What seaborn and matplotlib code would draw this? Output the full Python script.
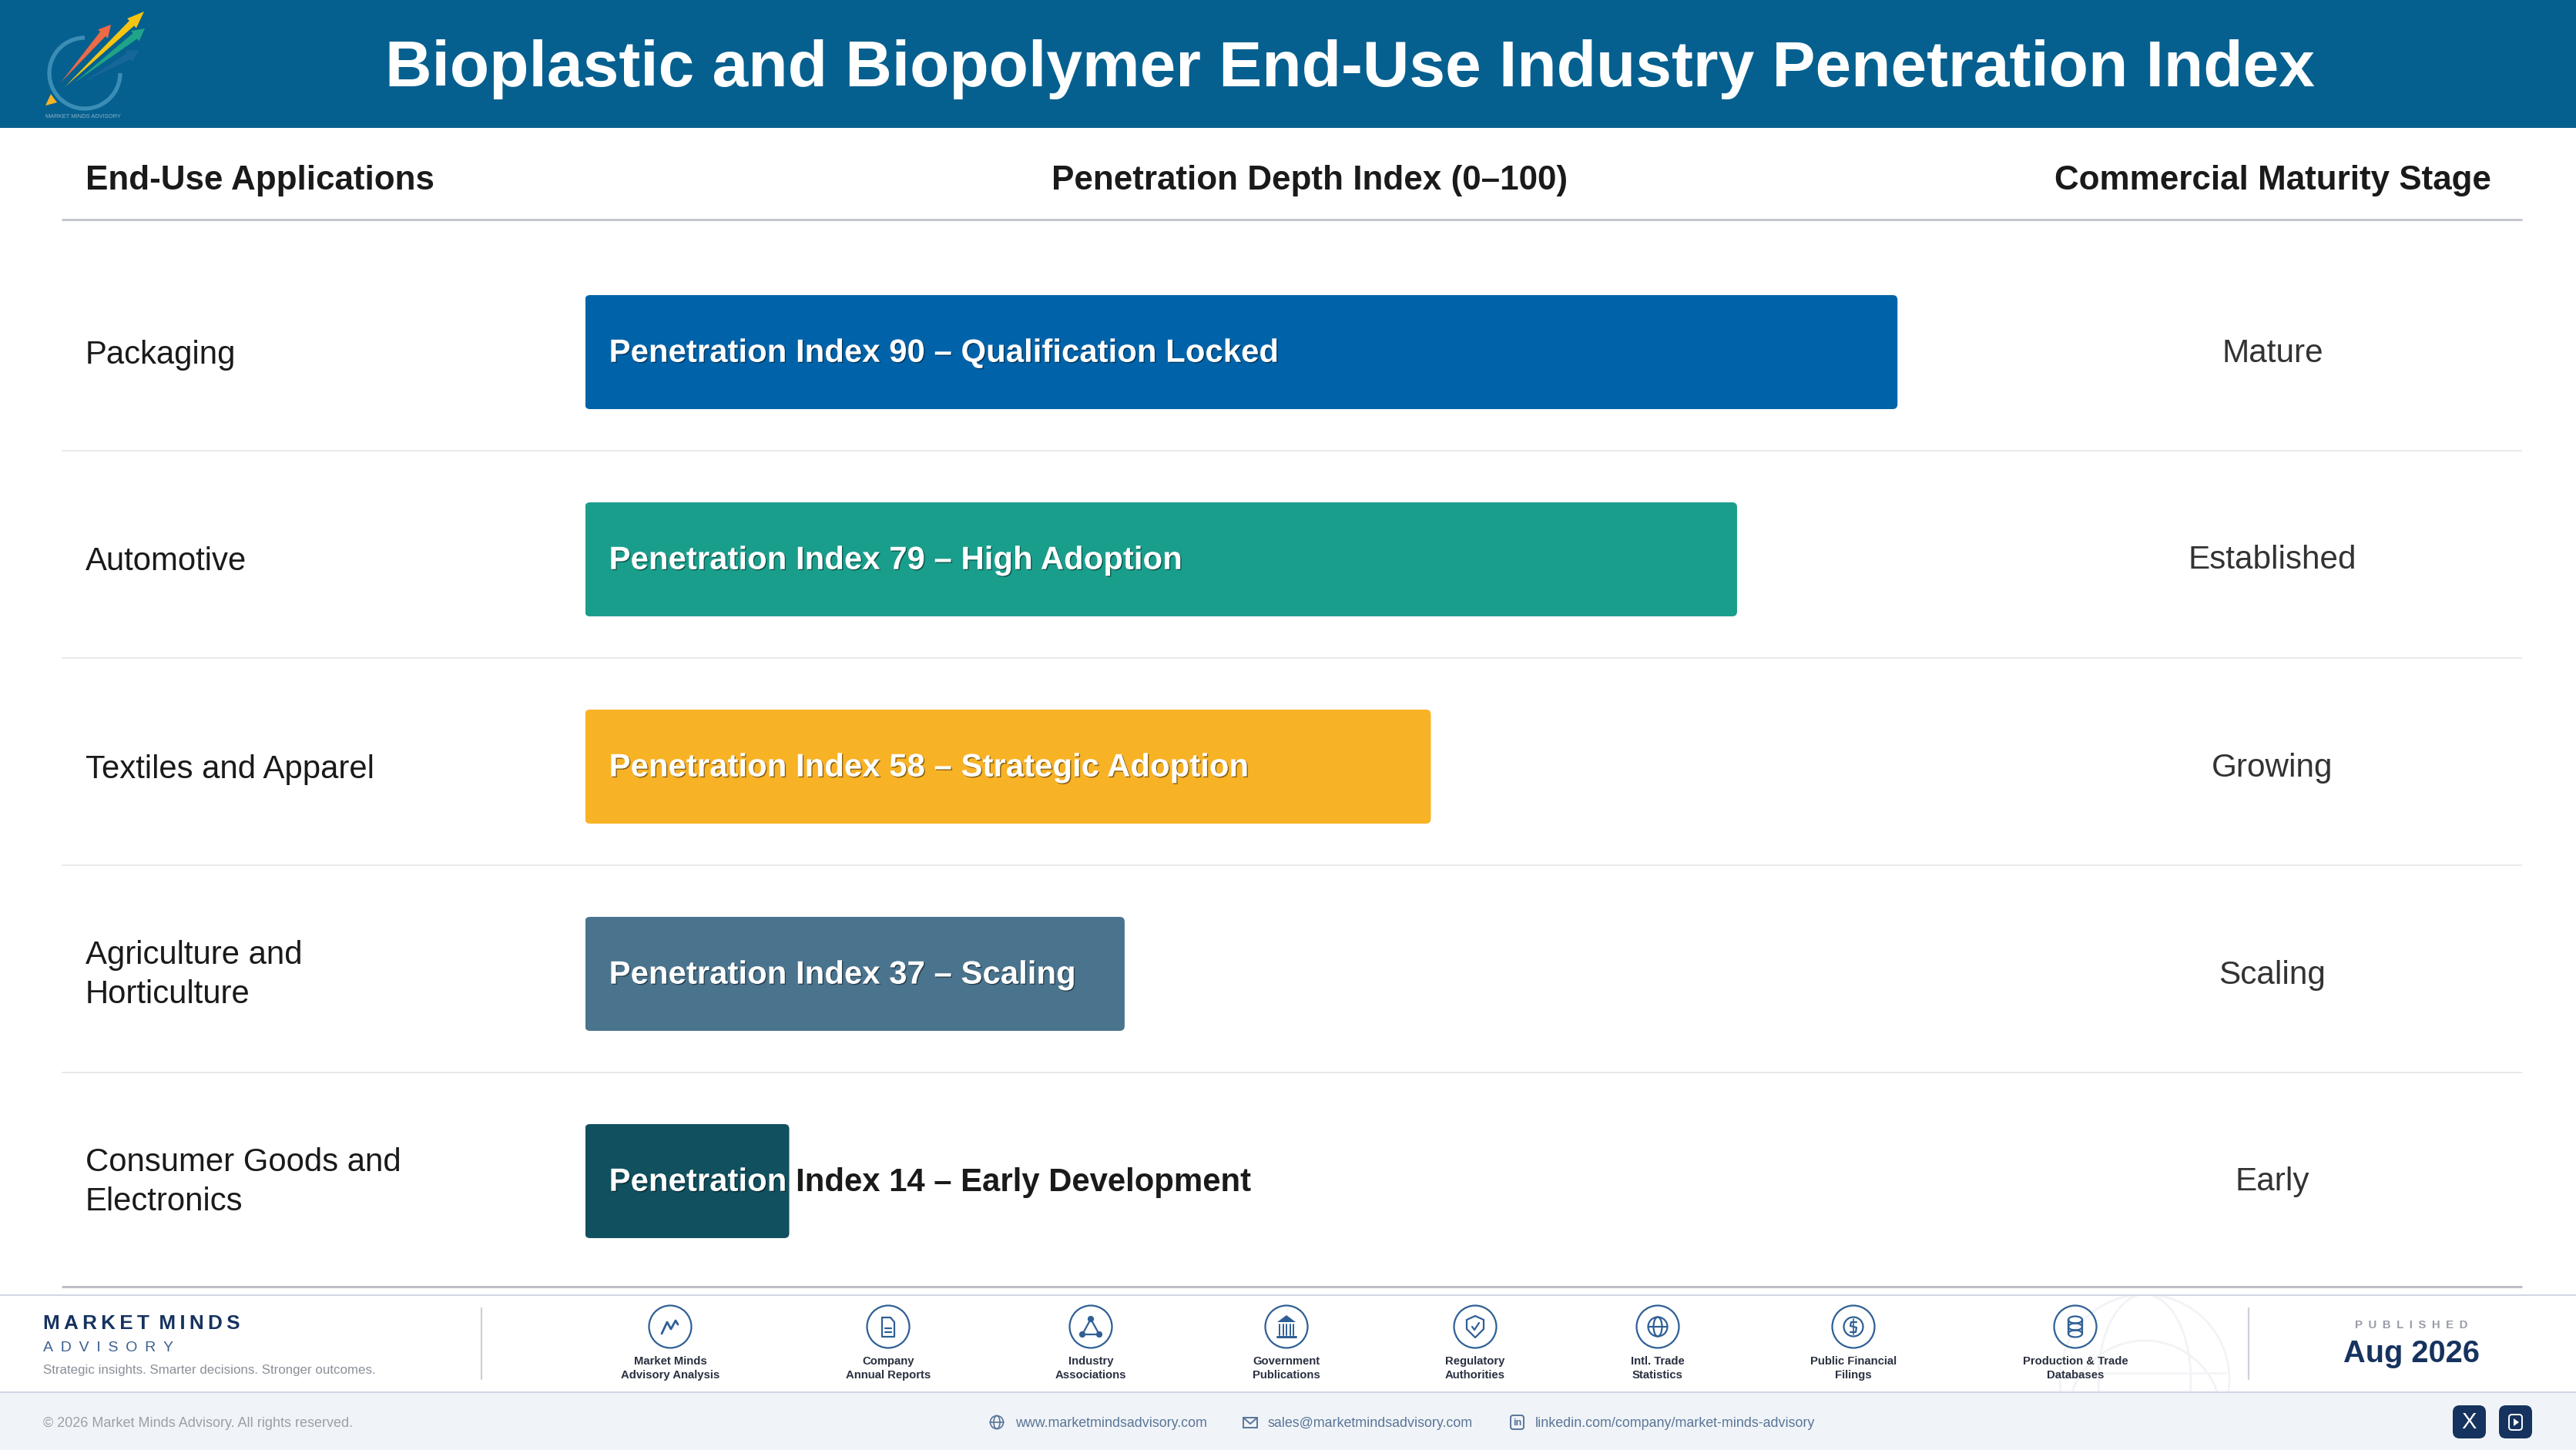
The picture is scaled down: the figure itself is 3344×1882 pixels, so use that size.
import numpy as np
import pandas as pd
import seaborn as sns
import matplotlib.pyplot as plt
import matplotlib.patheffects as pe
from matplotlib.patches import Rectangle, FancyBboxPatch, Circle, Ellipse, Arc, Polygon

OUTFILE = "out.png"

title = "Bioplastic and Biopolymer End-Use Industry Penetration Index"
headers = ["End-Use Applications", "Penetration Depth Index (0–100)", "Commercial Maturity Stage"]

applications = ["Packaging", "Automotive", "Textiles and Apparel", "Agriculture and\nHorticulture", "Consumer Goods and\nElectronics"]
index_values = [90, 79, 58, 37, 14]
adoption_labels = ["Qualification Locked", "High Adoption", "Strategic Adoption", "Scaling", "Early Development"]
maturity_stages = ["Mature", "Established", "Growing", "Scaling", "Early"]
bar_colors = ["#0063AA", "#1A9E8C", "#F8B225", "#4A748E", "#10505F"]

source_labels = ["Market Minds\nAdvisory Analysis", "Company\nAnnual Reports", "Industry\nAssociations", "Government\nPublications",
                 "Regulatory\nAuthorities", "Intl. Trade\nStatistics", "Public Financial\nFilings", "Production & Trade\nDatabases"]
source_x = [870, 1153, 1416, 1670, 1915, 2152, 2406, 2694]

W, H = 3344, 1882
DPI = 200
NAVY = "#16335F"
ICON = "#2F5F95"
FONT = ["Liberation Sans", "DejaVu Sans"]

sns.set_theme(style="white")
plt.rcParams["font.family"] = FONT

fig = plt.figure(figsize=(W / DPI, H / DPI), dpi=DPI, facecolor="white")

# page layer in pixel coordinates
bg = fig.add_axes([0, 0, 1, 1], zorder=0)
bg.set_xlim(0, W)
bg.set_ylim(H, 0)
bg.set_axis_off()


def rule(x0, x1, y, color, px):
    bg.plot([x0, x1], [y, y], color=color, lw=px * 0.36, solid_capstyle="butt")


def put(x, y, s, size, color="#1A1A1A", weight="normal", ha="left", **kw):
    return bg.text(x, y, s, fontsize=size, color=color, fontweight=weight, ha=ha, va="center", **kw)


# header band + logo
bg.add_patch(Rectangle((0, 0), W, 166, color="#05608F", lw=0))
put(1752, 90, title, 30.2, "white", "bold", ha="center")


def arrow(tail, tip, color, head=16, alpha=1.0):
    tail, tip = np.array(tail, float), np.array(tip, float)
    d = (tip - tail) / np.linalg.norm(tip - tail)
    n = np.array([-d[1], d[0]])
    neck = tip - d * head
    pts = [tail, neck + n * 4.5, neck + n * 8.5, tip, neck - n * 8.5, neck - n * 4.5]
    bg.add_patch(Polygon(pts, closed=True, color=color, lw=0, alpha=alpha))


bg.add_patch(Arc((110, 95), 92, 92, theta1=0, theta2=270, color="#3A8DB5", lw=1.9))
arrow((107, 107), (181, 65), "#1E6A9E", alpha=0.7)
arrow((97, 107), (188, 37), "#1FA487")
arrow((79, 107), (144, 32), "#EE6A45")
arrow((84, 113), (187, 15), "#F7C511", head=22)
bg.add_patch(Polygon([(59, 137), (66, 122), (74, 133)], closed=True, color="#F8B225", lw=0))
put(59, 151, "MARKET MINDS ADVISORY", 2.7, "#8FB2C6")

# table headers
put(111, 234, headers[0], 15.85, weight="bold")
put(1700, 234, headers[1], 15.85, weight="bold", ha="center")
put(2950, 234, headers[2], 15.85, weight="bold", ha="center")
rule(80, 3274, 285, "#C4C6CF", 3)

for y in [585, 854, 1123, 1392]:
    rule(80, 3274, y, "#E8E9EC", 2)
rule(80, 3274, 1670, "#BDBDC8", 3)

# bars, 0-100 scale mapped onto 759.5..2652.5 px
df = pd.DataFrame({"application": applications, "index": index_values})
ax = fig.add_axes([759.5 / W, 1 - 1667.5 / H, 1893 / W, 1345 / H], zorder=1)
ax.patch.set_alpha(0)
sns.barplot(data=df, x="index", y="application", hue="application", palette=bar_colors,
            width=0.55, dodge=False, legend=False, saturation=1, orient="h", ax=ax)
ax.set_xlim(0, 100)
ax.set_ylim(4.5, -0.5)
ax.set_axis_off()

aspect = (1893 / 100) / (1345 / 5)
for bar in list(ax.patches):
    ax.add_patch(FancyBboxPatch((bar.get_x(), bar.get_y()), bar.get_width(), bar.get_height(),
                                boxstyle="round,pad=0,rounding_size=0.33", mutation_aspect=aspect,
                                facecolor=bar.get_facecolor(), edgecolor="none", lw=0))
    bar.set_visible(False)

for i, (value, label) in enumerate(zip(index_values, adoption_labels)):
    s = f"Penetration Index {value} – {label}"
    white = ax.annotate(s, xy=(0, i), xytext=(11.2, -0.6), textcoords="offset points", fontsize=15.1,
                        fontweight="bold", color="white", va="center", ha="left")
    white.set_path_effects([pe.withSimplePatchShadow(offset=(0.5, -0.5), shadow_rgbFace="black", alpha=0.45)])
    white.set_clip_path(Rectangle((0, i - 0.5), value, 1, transform=ax.transData))
    white.set_clip_on(True)
    dark = ax.annotate(s, xy=(0, i), xytext=(11.2, -0.6), textcoords="offset points", fontsize=15.1,
                       fontweight="bold", color="#1A1A1A", va="center", ha="left")
    dark.set_clip_path(Rectangle((value, i - 0.5), 100 - value, 1, transform=ax.transData))
    dark.set_clip_on(True)

    y = 457.5 + 269 * i
    put(111, y + (1 if "\n" in applications[i] else 3), applications[i], 15.1, linespacing=1.35)
    put(2950, y + 1, maturity_stages[i], 15.2, "#333333", ha="center")

# footer
rule(0, W, 1681, "#D3D6E4", 2)
bg.add_patch(Rectangle((0, 1807), W, H - 1807, color="#F0F4F8", lw=0))
rule(0, W, 1807, "#D3D6E4", 2)

# faint globe behind the last source
band = Rectangle((2600, 1682), 400, 124, transform=bg.transData)
for patch in [Circle((2784, 1790), 110), Ellipse((2784, 1790), 120, 220), Circle((2784, 1840), 100)]:
    patch.set(fill=False, edgecolor="#F2F3F6", lw=1.0)
    bg.add_patch(patch)
    patch.set_clip_path(band)
rule(2680, 2890, 1782, "#F4F5F8", 3)

put(56, 1718, "M\u2009A\u2009R\u2009K\u2009E\u2009T\u2009 M\u2009I\u2009N\u2009D\u2009S", 9.4, NAVY, "bold")
put(56, 1750, "A\u2002D\u2002V\u2002I\u2002S\u2002O\u2002R\u2002Y", 7.0, "#3B5F8F")
put(56, 1778, "Strategic insights. Smarter decisions. Stronger outcomes.", 6.1, "#8A9099")
bg.plot([625, 625], [1698, 1790], color="#CDD0D8", lw=0.8)
bg.plot([2919, 2919], [1698, 1790], color="#CDD0D8", lw=0.8)

put(3130, 1720, "P\u2002U\u2002B\u2002L\u2002I\u2002S\u2002H\u2002E\u2002D", 5.4, "#9A9DA8", "bold", ha="center")
put(3130, 1757, "Aug 2026", 14.3, NAVY, "bold", ha="center")

LW = 0.8


def line(cx, cy, pts, lw=LW):
    pts = np.array(pts, float)
    bg.plot(cx + pts[:, 0], cy + pts[:, 1], color=ICON, lw=lw, solid_joinstyle="round", solid_capstyle="round")


def ring(cx, cy, w, h=None, fill=False):
    bg.add_patch(Ellipse((cx, cy), w, h or w, fill=fill, edgecolor=ICON, facecolor=ICON if fill else "none", lw=LW))


def icon_trend(cx, cy):
    line(cx, cy, [(-11, 9), (-4, -6), (1, 3), (7, -8), (10, -3)], 1.0)


def icon_doc(cx, cy):
    line(cx, cy, [(-8, -12), (3, -12), (8, -6), (8, 13), (-8, 13), (-8, -12)])
    line(cx, cy, [(-4, 2), (4, 2)])
    line(cx, cy, [(-4, 7), (4, 7)])


def icon_network(cx, cy):
    line(cx, cy, [(0, -10), (-11, 10), (11, 10), (0, -10)])
    for dx, dy in [(0, -10), (-11, 10), (11, 10)]:
        ring(cx + dx, cy + dy, 6, fill=True)


def icon_bank(cx, cy):
    bg.add_patch(Polygon([(cx - 12, cy - 6), (cx, cy - 15), (cx + 12, cy - 6)], closed=True, color=ICON, lw=0))
    for dx in [-9, -4.5, 0, 4.5, 9]:
        line(cx, cy, [(dx, -3), (dx, 11)], 0.7)
    line(cx, cy, [(-12, 13), (12, 13)], 1.1)


def icon_shield(cx, cy):
    line(cx, cy, [(0, -14), (11, -9), (11, 3), (0, 14), (-11, 3), (-11, -9), (0, -14)])
    line(cx, cy, [(-4, 0), (-1, 4), (5, -5)])


def icon_globe(cx, cy):
    ring(cx, cy, 25)
    ring(cx, cy, 11, 25)
    line(cx, cy, [(-12, 0), (12, 0)])


def icon_coin(cx, cy):
    ring(cx, cy, 25)
    line(cx, cy, [(4, -6), (-3, -6), (-4, -1), (4, 1), (3, 7), (-4, 7)])
    line(cx, cy, [(0, -10), (0, 10)], 0.6)


def icon_db(cx, cy):
    for dy in [-9, 0, 9]:
        ring(cx, cy + dy, 18, 9)
    line(cx, cy, [(-9, -9), (-9, 9)])
    line(cx, cy, [(9, -9), (9, 9)])


icons = [icon_trend, icon_doc, icon_network, icon_bank, icon_shield, icon_globe, icon_coin, icon_db]
for x, label, draw in zip(source_x, source_labels, icons):
    ring(x, 1722, 55)
    draw(x, 1722)
    top, bottom = label.split("\n")
    put(x, 1767, top, 5.35, "#2A3040", "bold", ha="center")
    put(x, 1785, bottom, 5.35, "#2A3040", "bold", ha="center")

# bottom strip
put(56, 1847, "© 2026 Market Minds Advisory. All rights reserved.", 6.5, "#9AA0A8")
contact = "#5A7598"
put(1318, 1847, "www.marketmindsadvisory.com", 6.45, contact)
put(1646, 1847, "sales@marketmindsadvisory.com", 6.45, contact)
put(1993, 1847, "linkedin.com/company/market-minds-advisory", 6.45, contact)

bg.add_patch(Ellipse((1294, 1846), 17, 17, fill=False, edgecolor=contact, lw=0.6))
bg.add_patch(Ellipse((1294, 1846), 8, 17, fill=False, edgecolor=contact, lw=0.6))
bg.plot([1285, 1303], [1846, 1846], color=contact, lw=0.6)
bg.add_patch(Rectangle((1614, 1840), 18, 13, fill=False, edgecolor=contact, lw=0.7))
bg.plot([1614, 1623, 1632], [1840, 1848, 1840], color=contact, lw=0.7)
bg.add_patch(FancyBboxPatch((1961, 1837), 17, 18, boxstyle="round,pad=0,rounding_size=3", fill=False, edgecolor=contact, lw=0.7))
bg.text(1969.5, 1847, "in", fontsize=4.6, color=contact, ha="center", va="center", fontweight="bold")

for x0 in [3184, 3244]:
    bg.add_patch(FancyBboxPatch((x0, 1824), 43, 43, boxstyle="round,pad=0,rounding_size=9", color=NAVY, lw=0))
put(3205.5, 1846, "X", 10.5, "white", ha="center")
bg.add_patch(FancyBboxPatch((3257, 1836), 17, 20, boxstyle="round,pad=0,rounding_size=4", fill=False, edgecolor="white", lw=0.7))
bg.add_patch(Polygon([(3263, 1841), (3263, 1851), (3270, 1846)], closed=True, color="white", lw=0))

plt.savefig(OUTFILE, dpi=DPI)
plt.close()
